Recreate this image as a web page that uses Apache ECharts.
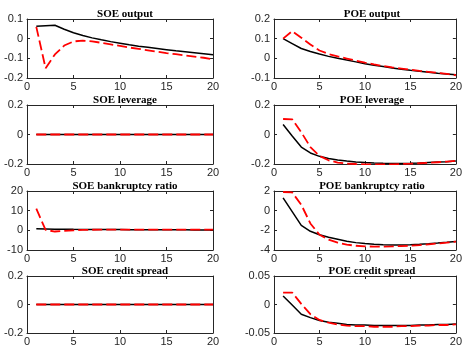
<!DOCTYPE html>
<html><head><meta charset="utf-8">
<script src="https://cdn.jsdelivr.net/npm/echarts@6/dist/echarts.min.js"></script>
<style>html,body{margin:0;padding:0;background:#fff}#c{width:465px;height:347px}</style>
</head><body><div id="c"></div>
<script>
const periods = [1,2,3,4,5,6,7,8,9,10,11,12,13,14,15,16,17,18,19,20];
const titles = ["SOE output","POE output","SOE leverage","POE leverage","SOE bankruptcy ratio","POE bankruptcy ratio","SOE credit spread","POE credit spread"];
const yMin = [-0.2,-0.1,-0.2,-0.2,-10,-4,-0.2,-0.05];
const yMax = [0.1,0.2,0.2,0.2,20,2,0.2,0.05];
const yStep = [0.1,0.1,0.2,0.2,10,2,0.2,0.05];
const xTicks = [0,5,10,15,20];

const soeOutputBlack = [0.063,0.066,0.068,0.048,0.03,0.016,0.004,-0.006,-0.015,-0.023,-0.031,-0.038,-0.044,-0.05,-0.056,-0.062,-0.067,-0.072,-0.077,-0.082];
const soeOutputRed = [0.06,-0.15,-0.08,-0.035,-0.014,-0.01,-0.014,-0.021,-0.029,-0.037,-0.045,-0.052,-0.059,-0.066,-0.073,-0.079,-0.085,-0.091,-0.097,-0.105];
const poeOutputBlack = [0.1,0.075,0.05,0.035,0.022,0.01,0,-0.009,-0.018,-0.027,-0.035,-0.042,-0.049,-0.055,-0.061,-0.066,-0.071,-0.076,-0.08,-0.084];
const poeOutputRed = [0.1,0.138,0.105,0.07,0.04,0.022,0.01,-0.001,-0.012,-0.022,-0.031,-0.039,-0.046,-0.052,-0.058,-0.064,-0.069,-0.074,-0.079,-0.086];
const soeLevBlack = [0,0,0,0,0,0,0,0,0,0,0,0,0,0,0,0,0,0,0,0];
const soeLevRed = [0,0,0,0,0,0,0,0,0,0,0,0,0,0,0,0,0,0,0,0];
const poeLevBlack = [0.068,-0.01,-0.085,-0.125,-0.148,-0.163,-0.173,-0.18,-0.186,-0.19,-0.193,-0.195,-0.196,-0.196,-0.195,-0.193,-0.19,-0.187,-0.184,-0.18];
const poeLevRed = [0.105,0.103,0.015,-0.085,-0.145,-0.175,-0.19,-0.197,-0.2,-0.202,-0.203,-0.203,-0.202,-0.2,-0.198,-0.195,-0.192,-0.188,-0.184,-0.179];
const soeBankBlack = [0.8,0.7,0.6,0.55,0.5,0.47,0.44,0.41,0.39,0.37,0.35,0.33,0.31,0.29,0.27,0.26,0.24,0.23,0.21,0.2];
const soeBankRed = [11,0.2,-0.6,-0.3,0,0.2,0.3,0.35,0.4,0.4,0.4,0.4,0.4,0.4,0.4,0.4,0.4,0.4,0.4,0.4];
const poeBankBlack = [1.3,-0.1,-1.5,-2.1,-2.45,-2.7,-2.9,-3.1,-3.25,-3.35,-3.42,-3.47,-3.49,-3.48,-3.46,-3.42,-3.37,-3.3,-3.22,-3.13];
const poeBankRed = [1.9,1.85,0.6,-1.3,-2.45,-2.95,-3.25,-3.45,-3.57,-3.63,-3.66,-3.66,-3.64,-3.6,-3.56,-3.5,-3.42,-3.34,-3.25,-3.15];
const soeSpreadBlack = [0,0,0,0,0,0,0,0,0,0,0,0,0,0,0,0,0,0,0,0];
const soeSpreadRed = [0,0,0,0,0,0,0,0,0,0,0,0,0,0,0,0,0,0,0,0];
const poeSpreadBlack = [0.015,-0.001,-0.017,-0.023,-0.028,-0.031,-0.033,-0.035,-0.036,-0.036,-0.037,-0.037,-0.037,-0.037,-0.037,-0.036,-0.036,-0.035,-0.035,-0.034];
const poeSpreadRed = [0.021,0.021,0.001,-0.017,-0.027,-0.032,-0.035,-0.037,-0.038,-0.038,-0.039,-0.039,-0.039,-0.038,-0.038,-0.037,-0.037,-0.036,-0.036,-0.035];

const blackSets = [soeOutputBlack,poeOutputBlack,soeLevBlack,poeLevBlack,soeBankBlack,poeBankBlack,soeSpreadBlack,poeSpreadBlack];
const redSets = [soeOutputRed,poeOutputRed,soeLevRed,poeLevRed,soeBankRed,poeBankRed,soeSpreadRed,poeSpreadRed];

const lefts = [27, 274];
const tops = [19, 105, 191, 276];
const W = 186, H = 59;
const axisColor = '#262626';
const grid = [], xAxis = [], yAxis = [], series = [], title = [];
function fmt(v){ return String(+v.toFixed(4)); }
for (let k = 0; k < 8; k++) {
  const col = k % 2, row = Math.floor(k / 2);
  grid.push({left: lefts[col], top: tops[row], width: W, height: H, show: false});
  title.push({text: titles[k], left: lefts[col] + W/2, top: tops[row] - 15, textAlign: 'center',
    textStyle: {fontFamily: 'Liberation Serif', fontWeight: 'bold', fontSize: 11, color: '#000'}});
  const common = {axisLine:{show:true,onZero:false,lineStyle:{color:axisColor,width:1}},
    axisTick:{show:true,inside:true,length:3,lineStyle:{color:axisColor}}, splitLine:{show:false}};
  xAxis.push(Object.assign({type:'value', gridIndex:k, min:0, max:20, interval:5, position:'bottom',
    axisLabel:{color:axisColor, fontFamily:'Liberation Sans', fontSize:11, margin:3}}, common));
  xAxis.push(Object.assign({type:'value', gridIndex:k, min:0, max:20, interval:5, position:'top',
    axisLabel:{show:false}}, common));
  yAxis.push(Object.assign({type:'value', gridIndex:k, min:yMin[k], max:yMax[k], interval:yStep[k], position:'left',
    axisLabel:{color:axisColor, fontFamily:'Liberation Sans', fontSize:11, margin:4, formatter: fmt}}, common));
  yAxis.push(Object.assign({type:'value', gridIndex:k, min:yMin[k], max:yMax[k], interval:yStep[k], position:'right',
    axisLabel:{show:false}}, common));
  series.push({type:'line', xAxisIndex:2*k, yAxisIndex:2*k, data: periods.map((p,i)=>[p, blackSets[k][i]]),
    showSymbol:false, lineStyle:{color:'#000', width:1.5}, silent:true, animation:false, z:2});
  series.push({type:'line', xAxisIndex:2*k, yAxisIndex:2*k, data: periods.map((p,i)=>[p, redSets[k][i]]),
    showSymbol:false, lineStyle:{color:'#ff0000', width:1.8, type:[10,4]}, silent:true, animation:false, z:3});
}
const chart = echarts.init(document.getElementById('c'), null, {renderer:'canvas'});
chart.setOption({animation:false, title, grid, xAxis, yAxis, series});
</script></body></html>
